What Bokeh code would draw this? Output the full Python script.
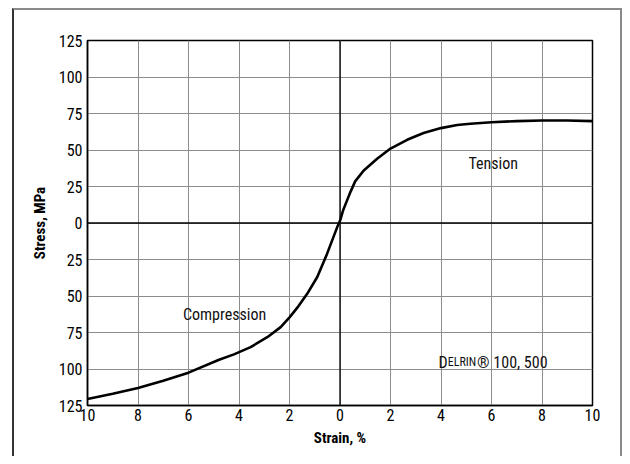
from bokeh.plotting import figure
from bokeh.models import FixedTicker, Span, Range1d
from bokeh.core.properties import value
from bokeh.embed import file_html
from bokeh.resources import INLINE

# Data (strain %, stress MPa; negative = compression)
strain = [-10, -9, -8, -7, -6, -4.79, -4.2, -3.54, -2.88, -2.35, -1.99, -1.69,
          -1.3, -0.9, -0.51, -0.11, 0.0, 0.12, 0.28, 0.42, 0.6, 0.94, 1.47, 2.0,
          2.66, 3.31, 4.0, 4.64, 5.16, 6, 7, 8, 9, 10]
stress = [-120.5, -117, -113, -108, -102.5, -93.7, -90, -85, -78.2, -71.3, -64.5,
          -58, -48.5, -37, -21, -2.8, 1.5, 8.5, 15.5, 21.5, 28.5, 36, 44, 51,
          57, 61.6, 65, 67.1, 68, 69, 69.8, 70.2, 70.2, 69.8]

x_ticks = [-10, -8, -6, -4, -2, 0, 2, 4, 6, 8, 10]
x_tick_labels = ["10", "8", "6", "4", "2", "0", "2", "4", "6", "8", "10"]
y_ticks = [-125, -100, -75, -50, -25, 0, 25, 50, 75, 100, 125]
y_tick_labels = ["125", "100", "75", "50", "25", "0", "25", "50", "75", "100", "125"]

FONT = "'Roboto Condensed', 'Liberation Sans Narrow', 'DejaVu Sans Condensed', Roboto, sans-serif"

p = figure(width=622, height=456, output_backend="svg", toolbar_location=None,
           x_range=Range1d(-10, 10), y_range=Range1d(-125, 125),
           min_border_left=87, min_border_top=40, min_border_right=30,
           min_border_bottom=51)
p.background_fill_color = "white"
p.border_fill_color = "white"
p.outline_line_color = "black"
p.outline_line_width = 1.5

for ax in (p.xaxis[0], p.yaxis[0]):
    ax.major_tick_out = 0
    ax.major_tick_in = 0
    ax.minor_tick_out = 0
    ax.minor_tick_in = 0
    ax.axis_line_color = "black"
    ax.axis_line_width = 1.5
    ax.major_label_text_font = FONT
    ax.major_label_text_font_size = "16px"
    ax.major_label_text_color = "black"
    ax.axis_label_text_font = FONT
    ax.axis_label_text_font_size = "15px"
    ax.axis_label_text_font_style = "bold"
    ax.axis_label_text_color = "black"

p.xaxis.ticker = FixedTicker(ticks=x_ticks)
p.xaxis.major_label_overrides = dict(zip(x_ticks, x_tick_labels))
p.yaxis.ticker = FixedTicker(ticks=y_ticks)
p.yaxis.major_label_overrides = dict(zip(y_ticks, y_tick_labels))
p.xaxis.axis_label = "Strain, %"
p.yaxis.axis_label = "Stress, MPa"
p.xaxis.major_label_standoff = 3
p.yaxis.major_label_standoff = 5
p.xaxis.axis_label_standoff = 5
p.yaxis.axis_label_standoff = 7

p.xgrid.ticker = FixedTicker(ticks=x_ticks)
p.ygrid.ticker = FixedTicker(ticks=y_ticks)
for g in (p.xgrid[0], p.ygrid[0]):
    g.grid_line_color = "#8c8c8c"
    g.grid_line_width = 1

p.add_layout(Span(location=0, dimension="height", line_color="black", line_width=1.3))
p.add_layout(Span(location=0, dimension="width", line_color="black", line_width=1.3))

p.line(strain, stress, line_color="black", line_width=2.6, line_join="round")

p.text(x=[6.07], y=[40.9], text=["Tension"], text_font=value(FONT),
       text_font_size="16px", text_align="center", text_baseline="middle",
       text_color="#111111")
p.text(x=[-4.57], y=[-62.6], text=["Compression"], text_font=value(FONT),
       text_font_size="16px", text_align="center", text_baseline="middle",
       text_color="#111111")
p.text(x=[3.90], y=[-95.3], text=["D"], text_font=value(FONT),
       text_font_size="16px", text_align="left", text_baseline="alphabetic",
       text_color="#111111")
p.text(x=[4.27], y=[-95.3], text=["ELRIN"], text_font=value(FONT),
       text_font_size="12px", text_align="left", text_baseline="alphabetic",
       text_color="#111111")
p.text(x=[5.43], y=[-95.3], text=["® 100, 500"], text_font=value(FONT),
       text_font_size="16px", text_align="left", text_baseline="alphabetic",
       text_color="#111111")

# outer frame around the whole chart (drawn with CSS, no data involved)
p.stylesheets = [
    ":host{position:relative;}"
    ":host::after{content:'';position:absolute;left:12px;top:8px;width:606px;"
    "bottom:0;border-top:2px solid #8a8a8a;border-left:2px solid #333333;"
    "border-right:2px solid #8a8a8a;pointer-events:none;z-index:10;}"
]

open("out.html", "w").write(file_html(p, INLINE))
